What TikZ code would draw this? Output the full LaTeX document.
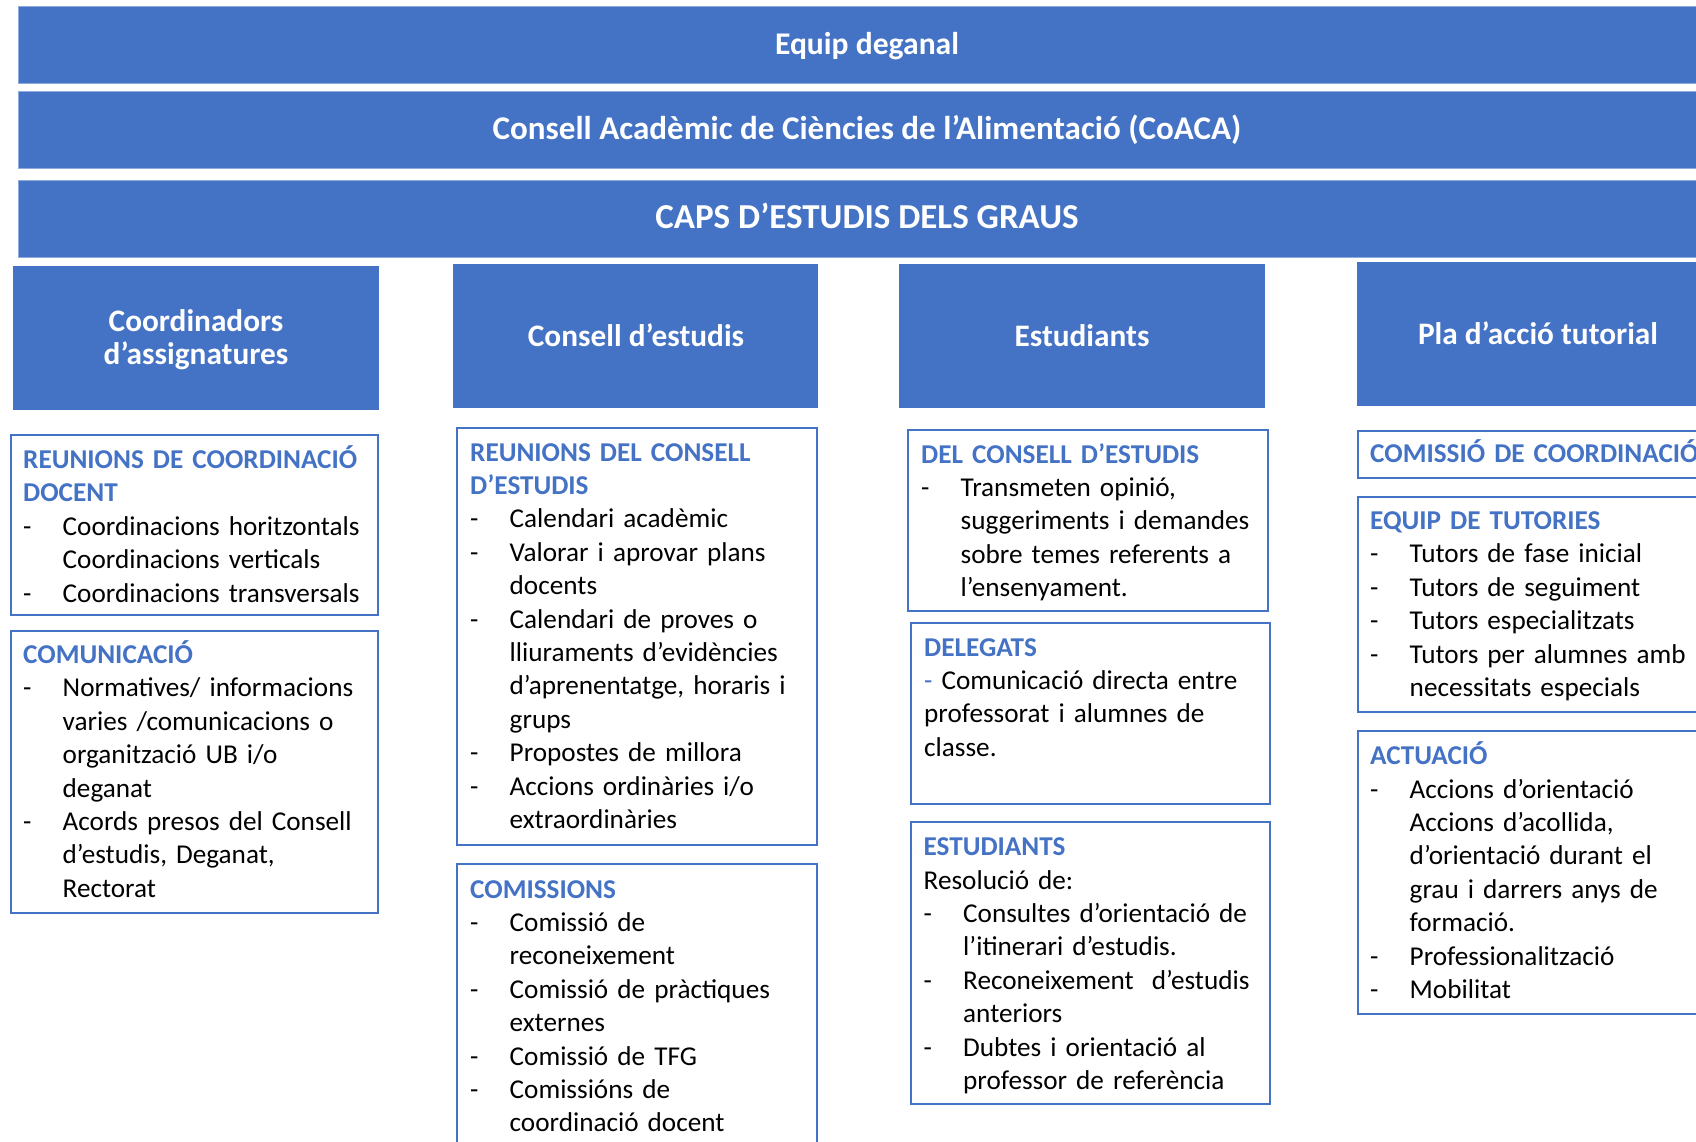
\documentclass[tikz,border=0pt]{standalone}
\usepackage{fontspec}
\setmainfont{Carlito}
\usetikzlibrary{positioning}
\definecolor{ob}{HTML}{4472C4}
\definecolor{obl}{HTML}{8FAADC}
\newcommand\di[1]{\makebox[39.5pt][l]{-}#1}
\newcommand\ct[1]{\hspace*{39.5pt}#1}
\newcommand\hd[1]{{\bfseries\color{ob}#1}}
\tikzset{
  bar/.style={fill=ob, draw=obl, line width=1.2pt, inner sep=0pt, anchor=north west},
  hdr/.style={fill=ob, draw=none, inner sep=0pt, anchor=north west},
  box/.style={draw=ob, line width=2pt, fill=white, inner sep=0pt, anchor=north west},
  bartxt/.style={text=white, font=\bfseries\fontsize{31.6}{38}\selectfont, inner sep=0pt, anchor=base},
  hdrtxt/.style={text=white, font=\bfseries\fontsize{31.3}{32.3}\selectfont, inner sep=0pt, anchor=base, align=center},
  body/.style={text=black, font=\fontsize{27.2}{33.4}\selectfont, inner sep=0pt, anchor=base west, text width=420pt, align=left},
}
\begin{document}
\begin{tikzpicture}[x=1pt,y=-1pt]
\useasboundingbox (0,0) rectangle (1696,1142);
\clip (0,0) rectangle (1696,1142);
% top bars
\node[bar, minimum width=1698pt, minimum height=77pt] (bar1) at (18,6) {};
\node[bar, minimum width=1698pt, minimum height=77pt] (bar2) at (18,91) {};
\node[bar, minimum width=1698pt, minimum height=77pt] (bar3) at (18,180) {};
\node[bartxt] (t1) at (867,55) {Equip deganal};
\node[bartxt, font=\bfseries\fontsize{33.1}{38}\selectfont] (t2) at (867,140) {Consell Acadèmic de Ciències de l’Alimentació (CoACA)};
\node[bartxt, font=\bfseries\fontsize{35}{40}\selectfont] (t3) at (867,228.3) {CAPS D’ESTUDIS DELS GRAUS};
% column headers
\node[hdr, minimum width=366pt, minimum height=144pt] (h1) at (13,266) {};
\node[hdr, minimum width=365pt, minimum height=144pt] (h2) at (453,264) {};
\node[hdr, minimum width=366pt, minimum height=144pt] (h3) at (899,264) {};
\node[hdr, minimum width=363pt, minimum height=144pt] (h4) at (1357,262) {};
\node[hdrtxt] (h1t) at (196,364) {Coordinadors\\d’assignatures};
\node[hdrtxt] (h2t) at (636,346.5) {Consell d’estudis};
\node[hdrtxt] (h3t) at (1082,346) {Estudiants};
\node[hdrtxt] (h4t) at (1538,344.5) {Pla d’acció tutorial};
% column 1
\node[box, minimum width=367pt, minimum height=180pt] (c1a) at (10,434) {};
\node[box, minimum width=367pt, minimum height=282pt] (c1b) at (10,630) {};
\node[body] (c1at) at (23,468.5) {\hd{REUNIONS DE COORDINACIÓ}\\\hd{DOCENT}\\\di{Coordinacions horitzontals}\\\ct{Coordinacions verticals}\\\di{Coordinacions transversals}};
\node[body] (c1bt) at (23,663.5) {\hd{COMUNICACIÓ}\\\di{Normatives/ informacions}\\\ct{varies /comunicacions o}\\\ct{organització UB i/o}\\\ct{deganat}\\\di{Acords presos del Consell}\\\ct{d’estudis, Deganat,}\\\ct{Rectorat}};
% column 2
\node[box, minimum width=360pt, minimum height=417pt] (c2a) at (456,427) {};
\node[box, minimum width=360pt, minimum height=300pt] (c2b) at (456,863) {};
\node[body] (c2at) at (470,461) {\hd{REUNIONS DEL CONSELL}\\\hd{D’ESTUDIS}\\\di{Calendari acadèmic}\\\di{Valorar i aprovar plans}\\\ct{docents}\\\di{Calendari de proves o}\\\ct{lliuraments d’evidències}\\\ct{d’aprenentatge, horaris i}\\\ct{grups}\\\di{Propostes de millora}\\\di{Accions ordinàries i/o}\\\ct{extraordinàries}};
\node[body] (c2bt) at (470,898) {\hd{COMISSIONS}\\\di{Comissió de}\\\ct{reconeixement}\\\di{Comissió de pràctiques}\\\ct{externes}\\\di{Comissió de TFG}\\\di{Comissións de}\\\ct{coordinació docent}};
% column 3
\node[box, minimum width=360pt, minimum height=181pt] (c3a) at (907,429) {};
\node[box, minimum width=359pt, minimum height=181pt] (c3b) at (910,622) {};
\node[box, minimum width=359pt, minimum height=282pt] (c3c) at (910,821) {};
\node[body] (c3at) at (921,463) {\hd{DEL CONSELL D’ESTUDIS}\\\di{Transmeten opinió,}\\\ct{suggeriments i demandes}\\\ct{sobre temes referents a}\\\ct{l’ensenyament.}};
\node[body] (c3bt) at (924,656) {\hd{DELEGATS}\\{\color{ob}-} Comunicació directa entre\\professorat i alumnes de\\classe.};
\node[body] (c3ct) at (923.5,855.7) {\hd{ESTUDIANTS}\\Resolució de:\\\di{Consultes d’orientació de}\\\ct{l’itinerari d’estudis.}\\\di{Reconeixement\ \ d’estudis}\\\ct{anteriors}\\\di{Dubtes i orientació al}\\\ct{professor de referència}};
% column 4
\node[box, minimum width=363pt, minimum height=47pt] (c4a) at (1357,430) {};
\node[box, minimum width=363pt, minimum height=215pt] (c4b) at (1357,496) {};
\node[box, minimum width=363pt, minimum height=283pt] (c4c) at (1357,730) {};
\node[body] (c4at) at (1370,462.5) {\hd{COMISSIÓ DE COORDINACIÓ}};
\node[body] (c4bt) at (1370,529.5) {\hd{EQUIP DE TUTORIES}\\\di{Tutors de fase inicial}\\\di{Tutors de seguiment}\\\di{Tutors especialitzats}\\\di{Tutors per alumnes amb}\\\ct{necessitats especials}};
\node[body] (c4ct) at (1370,764.7) {\hd{ACTUACIÓ}\\\di{Accions d’orientació}\\\ct{Accions d’acollida,}\\\ct{d’orientació durant el}\\\ct{grau i darrers anys de}\\\ct{formació.}\\\di{Professionalització}\\\di{Mobilitat}};
\end{tikzpicture}
\end{document}
